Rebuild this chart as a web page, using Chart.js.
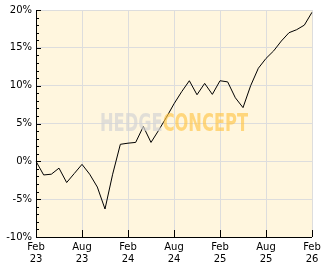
<!DOCTYPE html>
<html>
<head>
<meta charset="utf-8">
<script src="https://cdn.jsdelivr.net/npm/chart.js@4.4.1/dist/chart.umd.min.js"></script>
<style>
  html, body { margin: 0; padding: 0; background: #fff; }
  #wrap { width: 332px; height: 269px; }
</style>
</head>
<body>
<div id="wrap"><canvas id="perfChart"></canvas></div>
<script>
// monthly points, Feb 23 .. Feb 26
const months = [
  'Feb 23','Mar 23','Apr 23','May 23','Jun 23','Jul 23','Aug 23','Sep 23','Oct 23','Nov 23','Dec 23','Jan 24',
  'Feb 24','Mar 24','Apr 24','May 24','Jun 24','Jul 24','Aug 24','Sep 24','Oct 24','Nov 24','Dec 24','Jan 25',
  'Feb 25','Mar 25','Apr 25','May 25','Jun 25','Jul 25','Aug 25','Sep 25','Oct 25','Nov 25','Dec 25','Jan 26',
  'Feb 26'
];
const perf = [
  0, -1.8, -1.7, -0.9, -2.8, -1.6, -0.4, -1.7, -3.4, -6.3, -1.7, 2.25,
  2.4, 2.5, 4.6, 2.5, 4.1, 5.8, 7.6, 9.2, 10.65, 8.8, 10.3, 8.85,
  10.65, 10.5, 8.4, 7.1, 10.0, 12.3, 13.6, 14.6, 15.9, 17.0, 17.4, 18.0,
  19.7
];
const xTickLabels = { 'Feb 23': ['Feb','23'], 'Aug 23': ['Aug','23'], 'Feb 24': ['Feb','24'],
  'Aug 24': ['Aug','24'], 'Feb 25': ['Feb','25'], 'Aug 25': ['Aug','25'], 'Feb 26': ['Feb','26'] };
const yMin = -10, yMax = 20;

const ctx = document.getElementById('perfChart').getContext('2d');

// plot background, axes with inner ticks, watermark on top of the line
const frame = {
  id: 'frame',
  beforeDraw(chart) {
    const { ctx, chartArea: a } = chart;
    ctx.save();
    ctx.fillStyle = '#fff6de';
    ctx.fillRect(a.left, a.top, a.right - a.left, a.bottom - a.top);
    ctx.restore();
  },
  afterDatasetsDraw(chart) {
    const { ctx, chartArea: a, scales } = chart;
    ctx.save();
    // watermark
    const cx = (a.left + a.right) / 2, cy = (a.top + a.bottom) / 2;
    ctx.font = 'bold 24px "DejaVu Sans", sans-serif';
    ctx.textBaseline = 'middle';
    const w1 = ctx.measureText('HEDGE').width, w2 = ctx.measureText('CONCEPT').width;
    const sc = 148 / (w1 + w2);
    ctx.translate(cx - 74, cy + 1);
    ctx.scale(sc, 1);
    ctx.textAlign = 'left';
    ctx.fillStyle = 'rgba(212,212,212,0.7)';
    ctx.fillText('HEDGE', 0, 0);
    ctx.fillStyle = 'rgba(255,196,70,0.65)';
    ctx.fillText('CONCEPT', w1, 0);
    ctx.restore();

    ctx.save();
    ctx.strokeStyle = '#000';
    ctx.lineWidth = 1;
    ctx.beginPath();
    ctx.moveTo(a.left + 0.5, a.top);
    ctx.lineTo(a.left + 0.5, a.bottom + 0.5);
    ctx.lineTo(a.right, a.bottom + 0.5);
    // y ticks every 1%
    for (let v = yMin; v <= yMax; v++) {
      const y = Math.round(scales.y.getPixelForValue(v)) + 0.5;
      ctx.moveTo(a.left, y);
      ctx.lineTo(a.left + (v % 5 === 0 ? 5 : 3), y);
    }
    // x ticks at labelled months
    months.forEach((m, i) => {
      if (!xTickLabels[m]) return;
      const x = Math.round(scales.x.getPixelForValue(i)) + 0.5;
      ctx.moveTo(x, a.bottom);
      ctx.lineTo(x, a.bottom - 7);
    });
    ctx.stroke();
    ctx.restore();
  }
};

new Chart(ctx, {
  type: 'line',
  data: {
    labels: months,
    datasets: [{
      data: perf,
      borderColor: '#000',
      borderWidth: 1,
      pointRadius: 0,
      fill: false,
      tension: 0
    }]
  },
  options: {
    responsive: true,
    maintainAspectRatio: false,
    animation: false,
    layout: { padding: { top: 10, right: 20, left: 0, bottom: 0 } },
    plugins: { legend: { display: false }, tooltip: { enabled: false } },
    scales: {
      x: {
        offset: false,
        afterFit: s => { s.height = 32; },
        border: { display: false },
        grid: {
          color: c => (c.tick && xTickLabels[months[c.tick.value]]) ? '#dddddd' : 'transparent',
          drawTicks: false
        },
        ticks: {
          autoSkip: false,
          maxRotation: 0,
          padding: 4,
          color: '#000',
          font: { family: "'DejaVu Sans', sans-serif", size: 10 },
          callback: (v, i) => xTickLabels[months[i]] || ''
        }
      },
      y: {
        min: yMin,
        max: yMax,
        afterFit: s => { s.width = 36; },
        border: { display: false },
        grid: { color: '#dddddd', drawTicks: false },
        ticks: {
          stepSize: 5,
          padding: 4,
          color: '#000',
          font: { family: "'DejaVu Sans', sans-serif", size: 10 },
          callback: v => v + '%'
        }
      }
    }
  },
  plugins: [frame]
});
</script>
</body>
</html>
